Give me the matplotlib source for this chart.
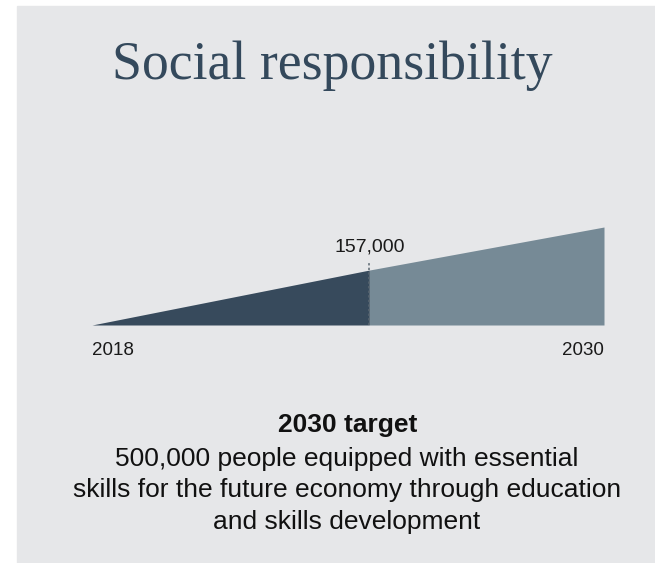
import matplotlib
matplotlib.use("Agg")
import matplotlib.pyplot as plt
from matplotlib.patches import Rectangle

# data
years = [2018, 2024.5, 2030]
values = [0, 157000, 280000]
current_label = "157,000"
start_label = "2018"
end_label = "2030"
title = "Social responsibility"
target_title = "2030 target"
target_lines = ["500,000 people equipped with essential",
                "skills for the future economy through education",
                "and skills development"]

W, H = 655, 563
fig = plt.figure(figsize=(W / 100, H / 100), dpi=100, facecolor="white")
bg = "#e6e7e9"
fig.patches.append(Rectangle((17 / W, 0), 1 - 17 / W, (H - 6) / H,
                             transform=fig.transFigure, color=bg, zorder=-5))

dark = "#374a5c"
light = "#768a96"

ax = fig.add_axes([92 / W, (H - 325) / H, 512 / W, 98 / H], zorder=2)
ax.set_facecolor("none")
ax.fill_between(years[:2], [0, 0], values[:2], color=dark, lw=0)
ax.fill_between(years[1:], [0, 0], values[1:], color=light, lw=0)
ax.set_xlim(years[0], years[-1])
ax.set_ylim(0, values[-1])
ax.axis("off")
ax.plot([years[1], years[1]], [0, 180000], color="#5a6670", lw=1.1,
        ls=(0, (1.5, 1.5)), clip_on=False)
ax.text(years[1], 222000, current_label, ha="center", va="center",
        fontsize=14, family="Liberation Sans", color="#1a1a1a", clip_on=False)
ax.text(years[0], -72000, start_label, ha="left", va="center",
        fontsize=13.5, family="Liberation Sans", color="#1a1a1a", clip_on=False)
ax.text(years[-1], -72000, end_label, ha="right", va="center",
        fontsize=13.5, family="Liberation Sans", color="#1a1a1a", clip_on=False)

fig.text(332 / W, 1 - 66 / H, title, ha="center", va="center",
         fontsize=38.7, family="Liberation Serif", color="#34495c")

fig.text(348 / W, 1 - 425 / H, target_title, ha="center", va="center",
         fontsize=19, weight="bold", family="Liberation Sans", color="#111111")
for i, line in enumerate(target_lines):
    fig.text(347 / W, 1 - (459 + i * 31.5) / H, line, ha="center", va="center",
             fontsize=19, family="Liberation Sans", color="#111111")

fig.savefig("out.png", dpi=100, facecolor="white")
